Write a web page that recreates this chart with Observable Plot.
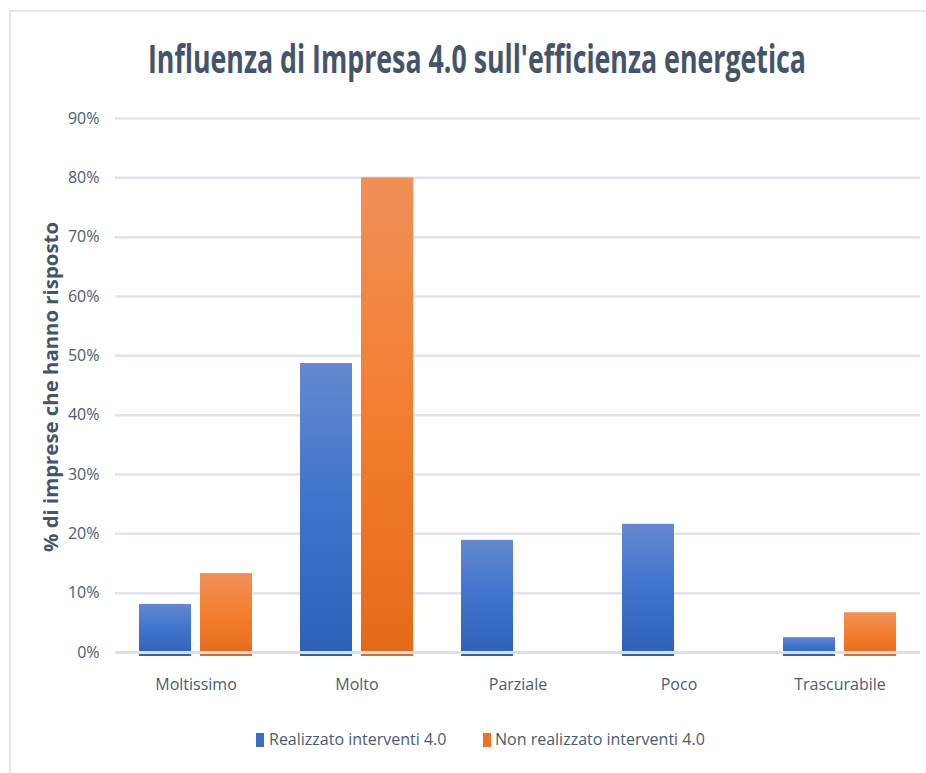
<!DOCTYPE html>
<html><head><meta charset="utf-8">
<script src="https://cdn.jsdelivr.net/npm/d3@7"></script>
<script src="https://cdn.jsdelivr.net/npm/@observablehq/plot@0.6"></script>
<style>
html,body{margin:0;padding:0;background:#fff}
body{width:926px;height:773px;overflow:hidden;position:relative;font-family:"Open Sans",sans-serif;color:#4d5b70}
#frame{position:absolute;left:9px;top:10px;width:1000px;height:900px;border:2px solid #e3e6eb;box-sizing:border-box}
#chart{position:absolute;left:0;top:0}
#title{position:absolute;top:30px;left:-523px;width:2000px;text-align:center;white-space:nowrap}
#title span{display:inline-block;font-weight:700;font-size:40px;color:#44546a;transform-origin:center}
#ylab{position:absolute;left:51px;top:387px;width:0;height:0}
#ylab span{position:absolute;left:0;top:0;display:inline-block;font-weight:700;font-size:19px;white-space:nowrap;color:#44546a;line-height:1}
.leg{position:absolute;top:728px;font-size:16px;white-space:nowrap;color:#4d5b70}
.sw{position:absolute;top:733px;width:8px;height:14px}
</style>
</head><body>
<div id="frame"></div>
<div id="chart"></div>
<div id="title"><span>Influenza di Impresa 4.0 sull'efficienza energetica</span></div>
<div id="ylab"><span>% di imprese che hanno risposto</span></div>
<div class="sw" style="left:256px;background:#3b6cc6"></div>
<div class="leg" id="l1" style="left:269px">Realizzato interventi 4.0</div>
<div class="sw" style="left:483px;background:#ee7425"></div>
<div class="leg" id="l2" style="left:495px">Non realizzato interventi 4.0</div>
<script>
const categories = ["Moltissimo", "Molto", "Parziale", "Poco", "Trascurabile"];
const seriesNames = ["Realizzato interventi 4.0", "Non realizzato interventi 4.0"];
const realizzato = [8.1, 48.7, 18.9, 21.6, 2.5];
const nonRealizzato = [13.3, 80.0, 0, 0, 6.7];
const yTicks = [0, 10, 20, 30, 40, 50, 60, 70, 80, 90];

const data = categories.flatMap((c, i) => [
  {cat: c, series: seriesNames[0], value: realizzato[i] / 100},
  {cat: c, series: seriesNames[1], value: nonRealizzato[i] / 100}
]);
const tickVals = yTicks.map(t => t / 100);

const chart = Plot.plot({
  width: 926, height: 773,
  marginTop: 118, marginBottom: 121, marginLeft: 115, marginRight: 6,
  style: {fontFamily: "Open Sans, sans-serif", fontSize: "16px", color: "#4d5b70", background: "transparent", overflow: "visible"},
  fx: {domain: categories, padding: 0, label: null, axis: "bottom", tickSize: 0, tickPadding: 26},
  x: {domain: seriesNames, paddingInner: 0.15, paddingOuter: 0.39, axis: null},
  y: {domain: [0, 0.9], label: null, axis: null},
  marks: [
    Plot.ruleY(tickVals, {stroke: "#e1e4ea", strokeWidth: 2.5}),
    Plot.barY(data.filter(d => d.series === seriesNames[0] && d.value > 0), {fx: "cat", x: "series", y: "value", fill: "#3b6cc6", insetBottom: -4, className: "barBlue"}),
    Plot.barY(data.filter(d => d.series === seriesNames[1] && d.value > 0), {fx: "cat", x: "series", y: "value", fill: "#ee7425", insetBottom: -4, className: "barOrange"}),
    Plot.ruleY([0], {stroke: "#dcdfe5", strokeWidth: 3}),
    Plot.axisY(tickVals, {tickFormat: d3.format(".0%"), tickSize: 0, tickPadding: 16, label: null, fontSize: 16})
  ]
});
document.getElementById("chart").appendChild(chart);

// gradients
const ns = "http://www.w3.org/2000/svg";
const svg = chart.tagName.toLowerCase() === "svg" ? chart : chart.querySelector("svg");
const defs = document.createElementNS(ns, "defs");
function grad(id, stops) {
  const g = document.createElementNS(ns, "linearGradient");
  g.setAttribute("id", id);
  g.setAttribute("x1", "0"); g.setAttribute("y1", "0");
  g.setAttribute("x2", "0"); g.setAttribute("y2", "1");
  stops.forEach(([o, c]) => {
    const s = document.createElementNS(ns, "stop");
    s.setAttribute("offset", o); s.setAttribute("stop-color", c);
    g.appendChild(s);
  });
  defs.appendChild(g);
}
grad("gBlue", [[0, "#6489d0"], [0.45, "#4175cc"], [1, "#2e60b9"]]);
grad("gOrange", [[0, "#ef9058"], [0.5, "#f47e2f"], [1, "#e46a18"]]);
svg.insertBefore(defs, svg.firstChild);
svg.querySelectorAll(".barBlue, .barBlue rect").forEach(e => e.setAttribute("fill", "url(#gBlue)"));
svg.querySelectorAll(".barOrange, .barOrange rect").forEach(e => e.setAttribute("fill", "url(#gOrange)"));

// condense title to match reference width
const t = document.querySelector("#title span");
const w = t.getBoundingClientRect().width;
t.style.transform = `scaleX(${658 / w})`;

// y label: rotate and stretch to reference length
const yl = document.querySelector("#ylab span");
const yw = yl.getBoundingClientRect().width;
const yh = yl.getBoundingClientRect().height;
yl.style.transform = `translate(${-yw / 2}px, ${-yh / 2}px) rotate(-90deg) scaleX(${330 / yw})`;
yl.style.transformOrigin = "center";
</script>
</body></html>
